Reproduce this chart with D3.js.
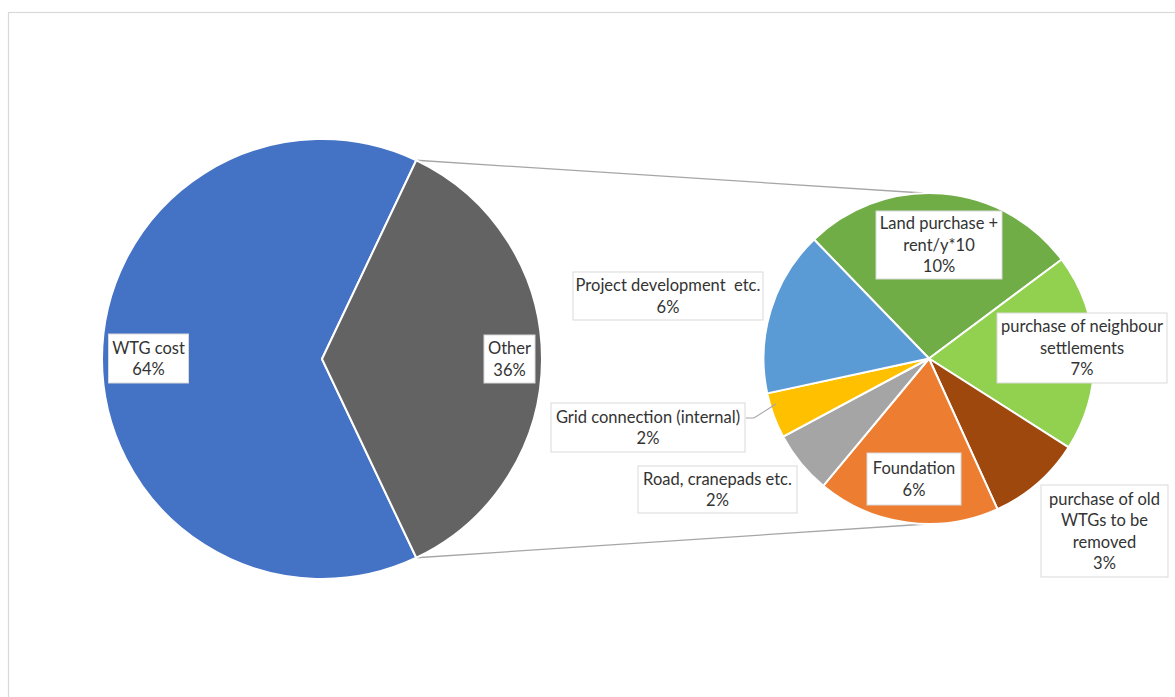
<!DOCTYPE html>
<html><head><meta charset="utf-8">
<script src="https://cdn.jsdelivr.net/npm/d3@7"></script>
<style>html,body{margin:0;padding:0;background:#fff;}svg{display:block;} text{white-space:pre;}</style>
</head><body>
<svg id="c" width="1175" height="697"></svg>
<script>
// ---- data ----
const mainCategories = ["WTG cost", "Other"];
const mainValues = [64.1, 35.9];
const subCategories = ["Land purchase + rent/y*10", "purchase of neighbour settlements", "purchase of old WTGs to be removed", "Foundation", "Road, cranepads etc.", "Grid connection (internal)", "Project development  etc."];
const subValues = [9.7, 6.9, 3.3, 6.4, 2.2, 1.6, 5.8];
const mainColors = ["#4472C4", "#636363"];
const subColors = ["#70AD47", "#92D050", "#9E480E", "#ED7D31", "#A5A5A5", "#FFC000", "#5B9BD5"];
// label line breaks
const mainLabelLines = [["WTG cost"], ["Other"]];
const subLabelLines = [["Land purchase +", "rent/y*10"], ["purchase of neighbour", "settlements"], ["purchase of old", "WTGs to be", "removed"], ["Foundation"], ["Road, cranepads etc."], ["Grid connection (internal)"], ["Project development  etc."]];

const total = d3.sum(mainValues);
const pct = v => Math.round(v / total * 100) + "%";

const svg = d3.select("#c");
// chart border
svg.append("rect").attr("x", 8.5).attr("y", 12.5).attr("width", 1200).attr("height", 800)
  .attr("fill", "none").attr("stroke", "#d9d9d9").attr("stroke-width", 1.2);

const c1 = {x: 322, y: 359, r: 220};
const c2 = {x: 929, y: 358.5, r: 165.5};

const otherSpan = mainValues[1] / total * 2 * Math.PI;
const pieMain = d3.pie().sort(null)
  .startAngle(Math.PI / 2 + otherSpan / 2)
  .endAngle(Math.PI / 2 + otherSpan / 2 + 2 * Math.PI);
const pieSub = d3.pie().sort(null)
  .startAngle(-44 * Math.PI / 180)
  .endAngle(-44 * Math.PI / 180 + 2 * Math.PI);

const arc1 = d3.arc().innerRadius(0).outerRadius(c1.r);
const arc2 = d3.arc().innerRadius(0).outerRadius(c2.r);

const mainArcs = pieMain(mainValues);
const subArcs = pieSub(subValues);

// connector lines
const otherArc = mainArcs[1];
const p = a => [Math.sin(a), -Math.cos(a)];
const [sx1, sy1] = p(otherArc.startAngle);
const [sx2, sy2] = p(otherArc.endAngle);
svg.append("line").attr("x1", c1.x + sx1 * c1.r).attr("y1", c1.y + sy1 * c1.r)
  .attr("x2", c2.x - 6).attr("y2", c2.y - c2.r).attr("stroke", "#a6a6a6").attr("stroke-width", 1.3);
svg.append("line").attr("x1", c1.x + sx2 * c1.r).attr("y1", c1.y + sy2 * c1.r)
  .attr("x2", c2.x - 2).attr("y2", c2.y + c2.r).attr("stroke", "#a6a6a6").attr("stroke-width", 1.3);

svg.append("g").attr("transform", `translate(${c1.x},${c1.y})`)
  .selectAll("path").data(mainArcs).join("path")
  .attr("d", arc1).attr("fill", (d, i) => mainColors[i])
  .attr("stroke", "#fff").attr("stroke-width", 2).attr("stroke-linejoin", "round");

svg.append("g").attr("transform", `translate(${c2.x},${c2.y})`)
  .selectAll("path").data(subArcs).join("path")
  .attr("d", arc2).attr("fill", (d, i) => subColors[i])
  .attr("stroke", "#fff").attr("stroke-width", 2).attr("stroke-linejoin", "round");

// leader line for Grid connection
svg.append("polyline").attr("points", "746,418 754,418 776,404")
  .attr("fill", "none").attr("stroke", "#a6a6a6").attr("stroke-width", 1.2);

// label layout (centres and box sizes)
const mainBoxes = [{cx: 148.5, cy: 358.5, w: 80, h: 49}, {cx: 509.5, cy: 359, w: 51, h: 48}];
const subBoxes = [
  {cx: 939, cy: 245, w: 126, h: 68},
  {cx: 1082, cy: 348, w: 170, h: 70},
  {cx: 1104.5, cy: 531, w: 127, h: 92},
  {cx: 914, cy: 479, w: 94, h: 52},
  {cx: 717.5, cy: 489.5, w: 159, h: 47},
  {cx: 648, cy: 427.5, w: 194, h: 49},
  {cx: 668, cy: 296, w: 190, h: 48}
];

function drawLabel(box, lines) {
  const g = svg.append("g");
  g.append("rect").attr("x", box.cx - box.w / 2).attr("y", box.cy - box.h / 2)
    .attr("width", box.w).attr("height", box.h)
    .attr("fill", "#fff").attr("stroke", "#d9d9d9").attr("stroke-width", 1);
  const lh = 21.5;
  const y0 = box.cy - (lines.length - 1) * lh / 2;
  const t = g.append("text").attr("text-anchor", "middle")
    .attr("font-family", "Lato, 'Open Sans', sans-serif").attr("font-size", 16.5).attr("fill", "#333333");
  lines.forEach((ln, i) => {
    t.append("tspan").attr("x", box.cx).attr("y", y0 + i * lh).attr("dy", "0.35em").text(ln);
  });
}
mainValues.forEach((v, i) => drawLabel(mainBoxes[i], [...mainLabelLines[i], pct(v)]));
subValues.forEach((v, i) => drawLabel(subBoxes[i], [...subLabelLines[i], pct(v)]));
</script>
</body></html>
